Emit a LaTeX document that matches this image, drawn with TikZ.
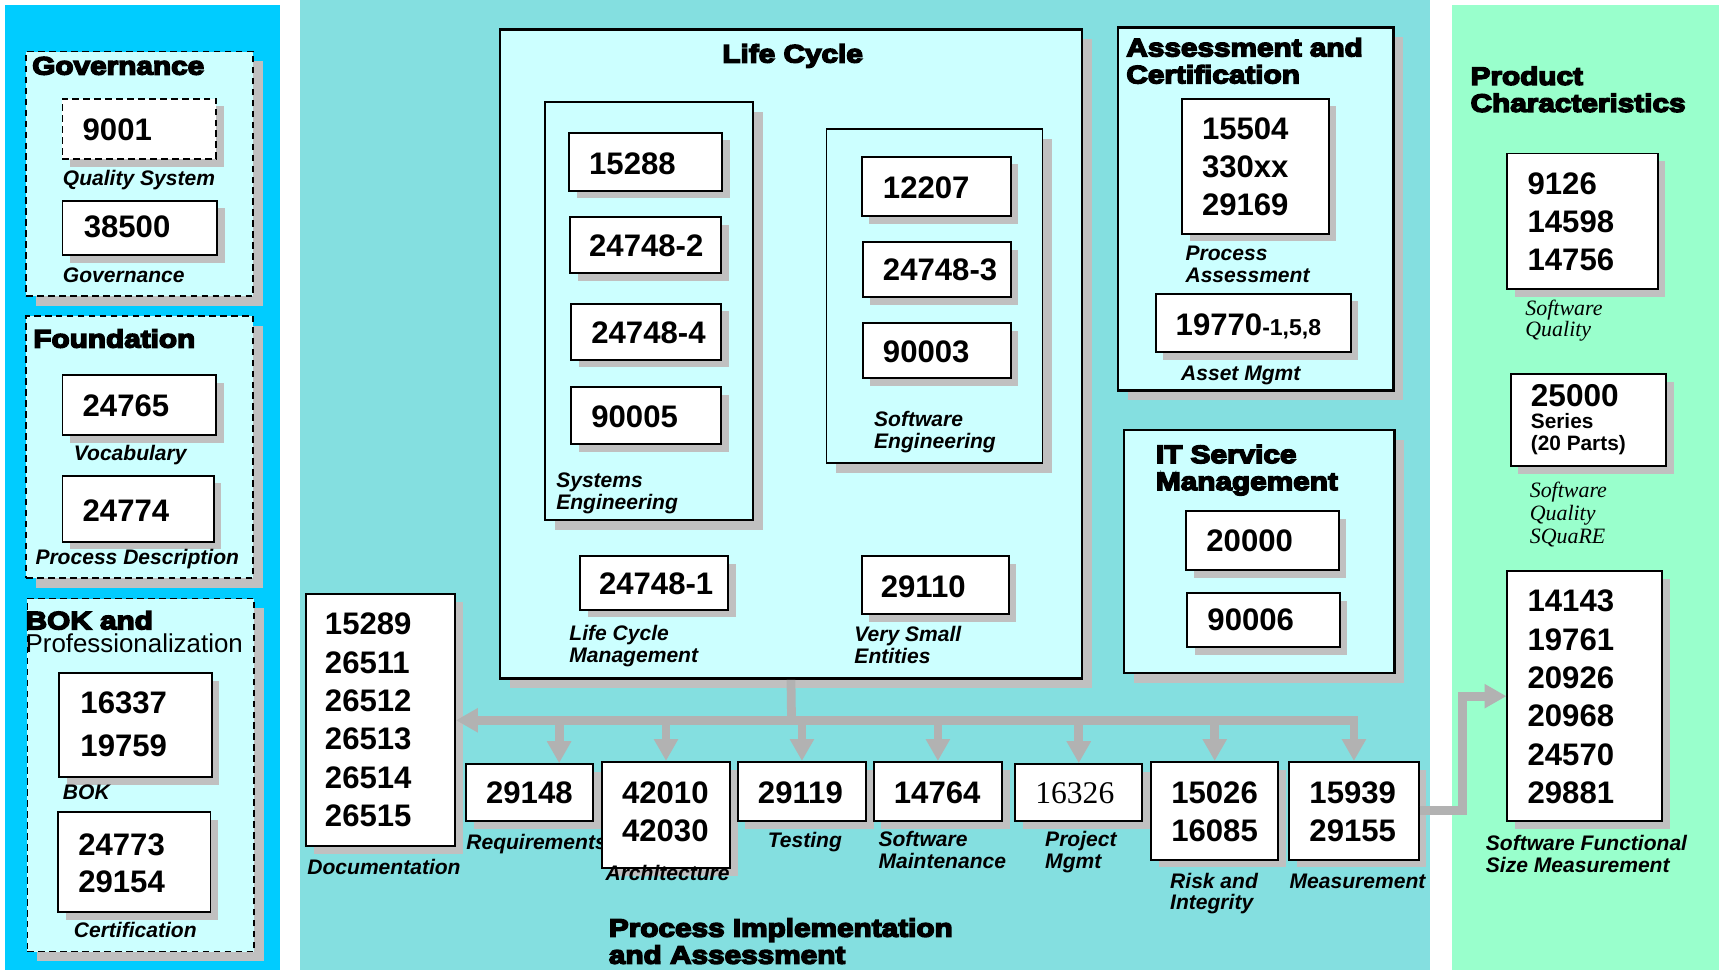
\documentclass[tikz,border=0pt]{standalone}
\usepackage{fontspec}
\setmainfont{Liberation Sans}
\newfontfamily\serif{Liberation Serif}
\newfontfamily\heavy{Liberation Sans}[BoldFeatures={FakeBold=6,FakeStretch=1.18}]
\usetikzlibrary{fit,shadows,arrows.meta,calc}
\definecolor{blueP}{HTML}{00CCFF}
\definecolor{midP}{HTML}{84DFE0}
\definecolor{greenP}{HTML}{99FFCC}
\definecolor{lightC}{HTML}{CCFFFF}
\definecolor{shad}{HTML}{C0C0C0}
\definecolor{connc}{HTML}{B2B2B2}
\newcommand\numf{\bfseries\fontsize{14.2pt}{17.5pt}\selectfont}
\newcommand\labf{\bfseries\itshape\fontsize{9.6pt}{10pt}\selectfont}
\newcommand\ttlf{\heavy\bfseries\fontsize{11.5pt}{12.3pt}\selectfont}
\newcommand\timf{\serif\itshape\fontsize{10pt}{9.8pt}\selectfont}
\newcommand\rbox[6]{\node[#6, fit={(#2,#3) (#4,#5)}] (#1) {};}
\tikzset{
 nb/.style={draw=black,line width=0.9pt,fill=white,inner sep=0pt,
   drop shadow={shadow xshift=3.5pt,shadow yshift=-3.5pt,fill=shad,opacity=1}},
 nbd/.style={nb,dash pattern=on 3pt off 2pt},
 ct/.style={draw=black,line width=1.1pt,fill=lightC,inner sep=0pt,
   drop shadow={shadow xshift=4.5pt,shadow yshift=-4.5pt,fill=shad,opacity=1}},
 cts/.style={ct,line width=0.8pt},
 ctd/.style={ct,line width=0.8pt,dash pattern=on 3pt off 2pt},
 tx/.style={anchor=base west,inner sep=0pt,align=left},
 num/.style={tx,font=\numf},
 lab/.style={tx,font=\labf},
 ttl/.style={tx,font=\ttlf},
 tim/.style={tx,font=\timf},
 gconn/.style={draw=connc,line width=4pt,line join=miter},
 arrowtip/.style={-{Triangle[width=10.5pt,length=10pt]}},
}
\begin{document}
\begin{tikzpicture}[x=0.5pt,y=-0.5pt]
\useasboundingbox (0,0) rectangle (1568,885);
\fill[white] (0,0) rectangle (1568,885);
\fill[blueP] (5,5) rectangle (255,885);
\fill[midP] (274,0) rectangle (1304,885);
\fill[greenP] (1324,5) rectangle (1568,885);

% (multi-line texts are placed by the baseline of their last line)
% ---------- Governance
\rbox{gov}{24}{47}{231}{270}{ctd}
\node[ttl] (govT) at (29,68) {Governance};
\rbox{b9001}{57}{90}{197}{145}{nbd}
\node[num] (t9001) at (75,128) {9001};
\node[lab] (lQS) at (57,169) {Quality System};
\rbox{b38500}{57}{183}{198}{233}{nb}
\node[num] (t38500) at (76,217) {38500};
\node[lab] (lGov) at (57,258) {Governance};

% ---------- Foundation
\rbox{fnd}{24}{288}{231}{527}{ctd}
\node[ttl] (fndT) at (30,317) {Foundation};
\rbox{b24765}{57}{342}{197}{397}{nb}
\node[num] (t24765) at (75,380) {24765};
\node[lab] (lVoc) at (67,420) {Vocabulary};
\rbox{b24774}{57}{434}{195}{494}{nb}
\node[num] (t24774) at (75,476) {24774};
\node[lab] (lPD) at (32,515) {Process Description};

% ---------- BOK
\rbox{bok}{25}{546}{232}{868}{ctd}
\node[ttl] (bokT) at (23,574) {BOK and};
\node[tx,font=\fontsize{11.8pt}{12pt}\selectfont] (bokT2) at (23,595) {Professionalization};
\rbox{b16337}{54}{614}{193}{709}{nb}
\node[num,font={\numf\fontsize{14.2pt}{19.5pt}\selectfont}] (t16337) at (73,690) {16337\\19759};
\node[lab] (lBOK) at (57,729) {BOK};
\rbox{b24773}{53}{741}{192}{832}{nb}
\node[num,font={\numf\fontsize{14.2pt}{17pt}\selectfont}] (t24773) at (71,814) {24773\\29154};
\node[lab] (lCert) at (67,855) {Certification};

% ---------- Life Cycle
\rbox{lc}{456}{27}{987}{619}{ct}
\node[ttl,anchor=base] (lcT) at (723,57) {Life Cycle};
\rbox{se}{497}{93}{687}{474}{cts}
\rbox{b15288}{519}{121}{659}{174}{nb}
\node[num] (t15288) at (537,159) {15288};
\rbox{b247482}{520}{198}{658}{249}{nb}
\node[num] (t247482) at (537,234) {24748-2};
\rbox{b247484}{521}{277}{658}{328}{nb}
\node[num] (t247484) at (539,313) {24748-4};
\rbox{b90005}{521}{353}{658}{405}{nb}
\node[num] (t90005) at (539,390) {90005};
\node[lab] (lSE) at (507,465) {Systems\\Engineering};
\rbox{sw}{754}{118}{951}{422}{cts}
\rbox{b12207}{786}{143}{922}{197}{nb}
\node[num] (t12207) at (805,181) {12207};
\rbox{b247483}{787}{221}{922}{271}{nb}
\node[num] (t247483) at (805,256) {24748-3};
\rbox{b90003}{787}{295}{922}{345}{nb}
\node[num] (t90003) at (805,331) {90003};
\node[lab] (lSW) at (797,409) {Software\\Engineering};
\rbox{b247481}{529}{507}{664}{556}{nb}
\node[num] (t247481) at (546,542) {24748-1};
\node[lab] (lLCM) at (519,604) {Life Cycle\\Management};
\rbox{b29110}{786}{507}{920}{560}{nb}
\node[num] (t29110) at (803,545) {29110};
\node[lab] (lVSE) at (779,605) {Very Small\\Entities};

% ---------- Assessment and Certification
\rbox{ac}{1020}{25}{1271}{356}{ct}
\node[ttl] (acT) at (1027,76) {Assessment and\\Certification};
\rbox{b15504}{1078}{90}{1212}{213}{nb}
\node[num] (t15504) at (1096,197) {15504\\330xx\\29169};
\node[lab] (lPA) at (1081,258) {Process\\Assessment};
\rbox{b19770}{1054}{268}{1232}{321}{nb}
\node[num] (t19770) at (1072,306) {19770{\fontsize{10.5pt}{10.5pt}\selectfont-1,5,8}};
\node[lab] (lAM) at (1077,347) {Asset Mgmt};

% ---------- IT Service Management
\rbox{it}{1025}{392}{1272}{614}{ct}
\node[ttl] (itT) at (1054,447) {IT Service\\Management};
\rbox{b20000}{1082}{466}{1221}{520}{nb}
\node[num] (t20000) at (1100,503) {20000};
\rbox{b90006}{1083}{541}{1222}{590}{nb}
\node[num] (t90006) at (1101,575) {90006};

% ---------- Documentation and process row
\rbox{doc}{279}{542}{415}{772}{nb}
\node[num] (tdoc) at (296,754) {15289\\26511\\26512\\26513\\26514\\26515};
\node[lab] (lDoc) at (280,798) {Documentation};

\rbox{req}{425}{697}{541}{749}{nb}
\node[num] (treq) at (443,733) {29148};
\node[lab] (lReq) at (425,775) {Requirements};

\rbox{arch}{549}{695}{666}{792}{nb}
\node[num] (tarch) at (567,768) {42010\\42030};
\node[lab] (lArch) at (552,803) {Architecture};

\rbox{test}{673}{695}{790}{749}{nb}
\node[num] (ttest) at (691,733) {29119};
\node[lab] (lTest) at (700,773) {Testing};

\rbox{maint}{797}{695}{914}{749}{nb}
\node[num] (tmaint) at (815,733) {14764};
\node[lab] (lMaint) at (801,792) {Software\\Maintenance};

\rbox{pm}{926}{697}{1042}{749}{nb}
\node[tx,font={\serif\fontsize{14.4pt}{15pt}\selectfont}] (tpm) at (944,733) {16326};
\node[lab] (lPM) at (953,792) {Project\\Mgmt};

\rbox{risk}{1050}{695}{1166}{784}{nb}
\node[num] (trisk) at (1068,768) {15026\\16085};
\node[lab] (lRisk) at (1067,830) {Risk and\\Integrity};

\rbox{meas}{1176}{695}{1294}{784}{nb}
\node[num] (tmeas) at (1194,768) {15939\\29155};
\node[lab] (lMeas) at (1176,810) {Measurement};

\node[ttl] (piT) at (555,879) {Process Implementation\\and Assessment};

% ---------- Product Characteristics
\node[ttl] (pcT) at (1341,102) {Product\\Characteristics};
\rbox{b9126}{1375}{140}{1512}{264}{nb}
\node[num] (t9126) at (1393,247) {9126\\14598\\14756};
\node[tim] (lSQ) at (1391,307) {Software\\Quality};
\rbox{b25000}{1378}{341}{1520}{425}{nb}
\node[tx,font={\bfseries\fontsize{9.5pt}{10pt}\selectfont}] (t25000) at (1396,411) {{\fontsize{14.4pt}{10pt}\selectfont 25000}\\Series\\(20 Parts)};
\node[tim,font={\serif\itshape\fontsize{10pt}{10.6pt}\selectfont}] (lSQuaRE) at (1395,496) {Software\\Quality\\SQuaRE};
\rbox{sfsm}{1375}{521}{1516}{749}{nb}
\node[num] (tsfsm) at (1393,733) {14143\\19761\\20926\\20968\\24570\\29881};
\node[lab] (lSFSM) at (1355,796) {Software Functional\\Size Measurement};

% ---------- connectors
\coordinate (bus) at (722,657);
\draw[gconn] (lc.south) -- (bus);
\draw[gconn,{Triangle[width=10.5pt,length=10pt]}-{Triangle[width=10.5pt,length=10pt]}] (bus -| doc.east) -| (meas.north);
\coordinate (reqd) at ($(req.north)+(27,0)$);
\draw[gconn,arrowtip] (reqd |- bus) -- (reqd);
\foreach \n in {arch,test,maint,pm,risk}
  \draw[gconn,arrowtip] (\n.north |- bus) -- (\n.north);
\coordinate (elb) at (1334,636);
\draw[gconn,arrowtip] (meas.east) -| (elb |- sfsm.west) -- (sfsm.west);
\end{tikzpicture}
\end{document}
